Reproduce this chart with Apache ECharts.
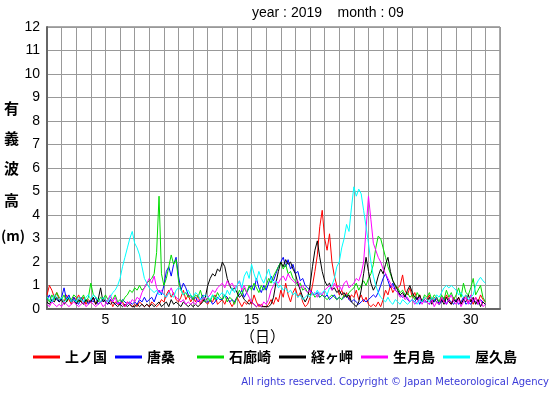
<!DOCTYPE html>
<html><head><meta charset="utf-8">
<script src="https://cdn.jsdelivr.net/npm/echarts@6/dist/echarts.min.js"></script>
<style>html,body{margin:0;padding:0;background:#fff}#c{width:555px;height:395px}</style>
</head><body><div id="c"></div>
<script>
const stations = ['上ノ国','唐桑','石廊崎','経ヶ岬','生月島','屋久島'];
const colors = ['#ff0000','#0000ff','#00dd00','#000000','#ff00ff','#00ffff'];
const yTicks = [0,1,2,3,4,5,6,7,8,9,10,11,12];
const xLabelDays = [5,10,15,20,25,30];
const stepsPerDay = 6; // values every 4 hours, from day 1 00:00 to day 31 00:00

const kaminokuni = [
0.6,1.0,0.8,0.5,0.7,0.4, 0.5,0.3,0.6,0.4,0.2,0.5, 0.4,0.6,0.3,0.5,0.2,0.4, 0.3,0.5,0.2,0.4,0.3,0.5,
0.3,0.2,0.4,0.1,0.3,0.2, 0.2,0.3,0.1,0.3,0.2,0.1, 0.2,0.1,0.3,0.2,0.1,0.2, 0.1,0.3,0.2,0.1,0.2,0.4,
0.3,0.6,0.8,0.5,0.7,0.4, 0.3,0.5,0.8,0.4,0.6,0.3, 0.5,0.3,0.6,0.2,0.4,0.3, 0.2,0.4,0.3,0.6,0.2,0.3,
0.4,0.2,0.5,0.3,0.1,0.3, 0.5,0.3,0.1,0.3,0.2,0.4, 0.2,0.6,0.3,0.1,0.2,0.1, 0.1,0.2,0.4,0.2,0.5,0.3,
0.8,0.5,1.1,0.6,0.3,0.7, 0.9,0.5,0.7,0.3,0.1,0.2, 0.5,1.0,1.6,2.3,3.5,4.2, 3.0,2.5,3.2,2.0,1.4,1.0,
0.6,0.8,0.5,0.7,0.4,0.6, 0.5,0.8,0.4,0.6,0.3,0.5, 0.2,0.1,0.2,0.1,0.3,0.1, 0.4,0.8,0.6,1.0,0.7,0.9,
0.9,1.0,1.45,0.8,0.6,0.9, 0.5,0.7,0.4,0.6,0.3,0.5, 0.4,0.6,0.3,0.5,0.4,0.3, 0.5,0.3,0.6,0.4,0.2,0.5,
0.3,0.5,0.2,0.4,0.6,0.3, 0.4,0.2,0.5,0.3,0.6,0.4, 0.3];

const karakuwa = [
0.4,0.6,0.3,0.5,0.4,0.3, 0.5,0.9,0.4,0.6,0.3,0.5, 0.3,0.2,0.5,0.3,0.4,0.2, 0.4,0.3,0.5,0.2,0.3,0.4,
0.3,0.2,0.4,0.3,0.2,0.3, 0.2,0.4,0.3,0.2,0.3,0.2, 0.3,0.2,0.4,0.3,0.5,0.3, 0.4,0.5,0.3,0.6,0.8,0.6,
1.0,1.6,1.8,1.4,1.9,2.2, 1.4,0.8,1.1,0.9,0.6,0.5, 0.4,0.5,0.3,0.4,0.6,0.3, 0.3,0.4,0.2,0.3,0.5,0.4,
0.4,0.6,0.5,0.3,0.4,0.3, 0.5,0.6,0.8,0.5,0.7,0.9, 1.0,0.8,1.3,0.9,0.7,1.0, 0.8,1.1,1.4,1.2,1.5,1.8,
2.0,2.2,1.8,2.1,1.7,1.9, 1.5,1.6,1.2,1.3,1.0,0.9, 0.8,0.7,0.6,0.7,0.5,0.6, 0.5,0.6,0.4,0.5,0.6,0.4,
0.5,0.4,0.5,0.6,0.4,0.3, 0.4,0.3,0.2,0.3,0.4,0.3, 0.4,0.5,0.6,0.5,0.7,1.0, 1.3,1.5,1.2,0.9,1.1,0.8,
0.7,0.6,0.5,0.6,0.4,0.3, 0.4,0.3,0.5,0.2,0.4,0.3, 0.3,0.2,0.4,0.3,0.5,0.2, 0.3,0.5,0.2,0.4,0.3,0.2,
0.4,0.2,0.3,0.5,0.2,0.3, 0.2,0.4,0.3,0.2,0.4,0.3, 0.2];

const irozaki = [
0.5,0.3,0.6,0.4,0.7,0.5, 0.4,0.6,0.3,0.5,0.4,0.6, 0.5,0.3,0.4,0.6,0.3,0.5, 1.1,0.6,0.5,0.3,0.5,0.4,
0.6,0.4,0.5,0.4,0.6,0.3, 0.4,0.3,0.5,0.6,0.8,0.7, 0.9,0.8,1.0,0.8,0.9,1.1, 1.2,1.3,1.5,2.4,4.8,1.5,
1.0,1.3,1.8,2.3,1.9,2.1, 1.2,0.8,0.6,0.7,0.5,0.6, 0.4,0.6,0.5,0.8,0.4,0.3, 0.5,0.3,0.6,0.4,0.7,0.5,
0.4,0.6,0.3,0.5,0.4,0.2, 0.5,0.8,0.6,0.9,0.7,1.0, 0.8,1.1,0.9,0.7,1.0,0.8, 1.0,1.3,1.1,1.4,1.6,1.8,
2.0,1.7,1.9,1.5,1.6,1.3, 1.2,1.0,1.1,0.8,0.9,0.7, 0.6,0.7,0.5,0.6,0.5,0.6, 0.5,0.4,0.5,0.6,0.5,0.4,
0.5,0.4,0.6,0.5,0.7,0.8, 0.9,1.1,0.8,1.0,1.2,1.0, 1.3,1.5,1.9,2.6,3.1,3.0, 2.6,2.2,1.8,1.5,1.2,1.0,
0.9,0.7,0.8,0.6,0.7,0.5, 0.6,0.4,0.7,0.5,0.3,0.6, 0.5,0.7,0.4,0.6,0.5,0.3, 0.6,0.4,0.8,0.5,0.7,0.4,
0.6,0.9,0.5,1.1,0.7,0.6, 0.9,1.3,0.6,0.8,1.0,0.5, 0.3];

const kyogamisaki = [
0.3,0.2,0.4,0.3,0.5,0.3, 0.4,0.2,0.3,0.5,0.3,0.4, 0.2,0.4,0.3,0.2,0.4,0.3, 0.3,0.5,0.2,0.4,0.9,0.3,
0.4,0.3,0.2,0.3,0.2,0.1, 0.2,0.1,0.2,0.1,0.2,0.1, 0.1,0.2,0.1,0.2,0.1,0.2, 0.1,0.2,0.1,0.2,0.3,0.1,
0.2,0.3,0.1,0.4,0.2,0.3, 0.2,0.1,0.3,0.2,0.1,0.2, 0.1,0.2,0.1,0.2,0.3,0.5, 1.0,1.3,1.5,1.4,1.7,1.6,
2.0,1.8,1.3,1.0,0.8,0.9, 0.7,0.5,0.6,0.4,0.3,0.2, 0.3,0.2,0.1,0.2,0.1,0.1, 0.1,0.1,0.2,0.5,1.1,1.6,
2.0,1.8,2.1,1.9,2.0,1.7, 1.5,1.1,0.8,0.5,0.3,0.5, 1.0,1.8,2.5,2.9,2.2,1.6, 1.2,1.0,1.1,0.8,0.9,0.7,
0.8,0.6,0.7,0.5,0.6,0.3, 0.2,0.1,0.3,0.8,1.5,2.2, 1.6,1.1,0.8,1.0,1.4,1.7, 1.5,1.9,2.2,1.6,1.2,1.0,
0.8,0.6,0.7,0.5,0.8,1.0, 0.7,0.5,0.4,0.6,0.3,0.4, 0.3,0.5,0.2,0.4,0.3,0.2, 0.4,0.2,0.5,0.3,0.2,0.4,
0.3,0.5,0.2,0.4,0.3,0.6, 0.3,0.5,0.2,0.4,0.1,0.3, 0.2];

const ikitsukishima = [
0.2,0.1,0.3,0.2,0.1,0.2, 0.1,0.3,0.2,0.1,0.2,0.3, 0.2,0.1,0.2,0.3,0.1,0.2, 0.3,0.2,0.1,0.2,0.3,0.1,
0.2,0.4,0.6,0.3,0.5,0.2, 0.3,0.2,0.1,0.3,0.2,0.4, 0.3,0.5,0.4,0.7,0.9,1.1, 1.3,1.1,1.4,0.9,0.7,0.8,
0.6,0.5,0.7,0.9,0.6,0.5, 0.4,0.3,0.4,0.2,0.3,0.2, 0.3,0.2,0.4,0.3,0.5,0.4, 0.5,0.6,0.8,0.7,0.9,1.0,
1.1,0.9,1.2,1.0,1.1,0.9, 1.0,1.2,0.8,1.0,0.7,0.5, 0.3,0.2,0.1,0.2,0.1,0.3, 0.2,0.4,0.8,1.0,1.2,1.1,
1.3,1.4,1.2,1.5,1.3,1.2, 1.1,1.2,0.9,1.0,0.8,0.7, 0.8,0.6,0.7,0.5,0.7,0.6, 0.8,0.9,1.0,0.8,1.1,0.9,
1.0,0.8,1.1,1.2,0.9,1.0, 1.1,1.3,1.2,1.5,2.0,3.4, 4.8,3.8,2.8,2.5,2.2,2.0, 1.7,1.5,1.3,1.1,0.9,0.8,
0.7,0.5,0.6,0.4,0.5,0.3, 0.4,0.2,0.3,0.5,0.2,0.4, 0.3,0.2,0.4,0.1,0.3,0.2, 0.5,0.3,0.2,0.4,0.6,0.3,
0.2,0.4,0.1,0.3,0.5,0.2, 0.6,0.3,0.5,0.2,0.4,0.1, 0.2];

const yakushima = [
0.5,0.4,0.3,0.6,0.5,0.4, 0.5,0.3,0.4,0.5,0.3,0.4, 0.3,0.5,0.4,0.3,0.5,0.6, 0.4,0.6,0.5,0.4,0.3,0.5,
0.4,0.3,0.5,0.7,0.8,1.0, 1.3,1.8,2.2,2.6,3.0,3.3, 2.8,2.6,2.3,1.8,1.3,1.1, 0.9,0.8,0.7,0.8,0.6,0.7,
0.6,0.5,0.7,0.6,0.5,0.8, 0.9,0.8,0.6,0.7,0.8,0.6, 0.5,0.7,0.6,0.4,0.5,0.6, 0.5,0.4,0.6,0.5,0.4,0.6,
0.7,0.5,0.8,0.6,0.9,0.7, 1.0,1.2,0.9,1.4,1.6,1.3, 1.9,1.5,1.2,1.6,1.3,1.1, 1.4,1.7,1.3,1.1,1.2,0.9,
1.0,0.8,0.9,0.7,0.8,0.6, 0.7,0.5,0.6,0.4,0.5,0.6, 0.5,0.7,0.6,0.8,0.6,0.7, 0.8,0.6,0.9,1.0,1.3,1.8,
2.0,2.6,3.0,3.6,3.3,4.3, 5.2,4.8,5.1,4.9,4.2,3.5, 2.8,2.0,1.4,1.0,0.7,0.5, 0.4,0.3,0.5,0.3,0.2,0.4,
0.3,0.2,0.4,0.3,0.2,0.3, 0.4,0.3,0.2,0.4,0.3,0.5, 0.4,0.3,0.5,0.4,0.6,0.5, 0.7,0.9,1.0,0.9,1.0,0.9,
0.8,0.6,0.7,0.5,0.6,0.4, 0.5,0.6,1.0,1.2,1.35,1.2, 1.1];

const seriesValues = [kaminokuni, karakuwa, irozaki, kyogamisaki, ikitsukishima, yakushima];

const chart = echarts.init(document.getElementById('c'), null, {renderer:'canvas'});
const series = seriesValues.map((vals, k) => ({
  name: stations[k],
  type: 'line',
  showSymbol: false,
  symbol: 'none',
  animation: false,
  data: vals.map((v, i) => [1 + i / stepsPerDay, v]),
  lineStyle: { color: colors[k], width: 1 },
  itemStyle: { color: colors[k] }
}));

const legends = stations.map((s, k) => ({
  data: [s],
  left: 28 + k * 82,
  top: 345,
  icon: 'rect',
  itemWidth: 27,
  itemHeight: 3,
  textStyle: { fontSize: 14, fontWeight: 'bold', color: '#000', fontFamily: '"Noto Sans CJK JP"' },
  selectedMode: false
}));

chart.setOption({
  animation: false,
  backgroundColor: '#fff',
  grid: { left: 47, top: 27, width: 453, height: 282, show: true, borderColor: '#555', borderWidth: 1 },
  xAxis: {
    type: 'value', min: 1, max: 32, interval: 1,
    axisLine: { show: true, lineStyle: { color: '#666', width: 2 } },
    axisTick: { show: false },
    splitLine: { show: true, lineStyle: { color: '#999', width: 1 } },
    axisLabel: { fontSize: 14, color: '#000', fontFamily: 'Liberation Sans', margin: 4,
      formatter: v => xLabelDays.indexOf(v) >= 0 ? String(v) : '' }
  },
  yAxis: {
    type: 'value', min: yTicks[0], max: yTicks[yTicks.length - 1], interval: 1,
    axisLine: { show: true, lineStyle: { color: '#666', width: 2 } },
    axisTick: { show: false },
    splitLine: { show: true, lineStyle: { color: '#999', width: 1 } },
    axisLabel: { fontSize: 14, color: '#000', fontFamily: 'Liberation Sans', margin: 7 }
  },
  legend: legends,
  series: series,
  graphic: [
    { type: 'text', left: 252, top: 6, style: { text: 'year : 2019    month : 09', fontSize: 14, fill: '#000', fontFamily: 'Liberation Sans' } },
    { type: 'text', left: 4, top: 101, style: { text: '有', fontSize: 15, fontWeight: 'bold', fill: '#000', fontFamily: '"Noto Sans CJK JP"' } },
    { type: 'text', left: 4, top: 131, style: { text: '義', fontSize: 15, fontWeight: 'bold', fill: '#000', fontFamily: '"Noto Sans CJK JP"' } },
    { type: 'text', left: 4, top: 161, style: { text: '波', fontSize: 15, fontWeight: 'bold', fill: '#000', fontFamily: '"Noto Sans CJK JP"' } },
    { type: 'text', left: 4, top: 193, style: { text: '高', fontSize: 15, fontWeight: 'bold', fill: '#000', fontFamily: '"Noto Sans CJK JP"' } },
    { type: 'text', left: 1, top: 229, style: { text: '(m)', fontSize: 14, fontWeight: 'bold', fill: '#000', fontFamily: '"Noto Sans CJK JP"' } },
    { type: 'text', left: 240, top: 329, style: { text: '（日）', fontSize: 15, fill: '#000', fontFamily: '"Noto Sans CJK JP"' } },
    { type: 'text', right: 6, top: 377, style: { text: 'All rights reserved. Copyright © Japan Meteorological Agency', fontSize: 10, fill: '#3a3ad8', fontFamily: 'DejaVu Sans' } }
  ]
});
</script></body></html>
